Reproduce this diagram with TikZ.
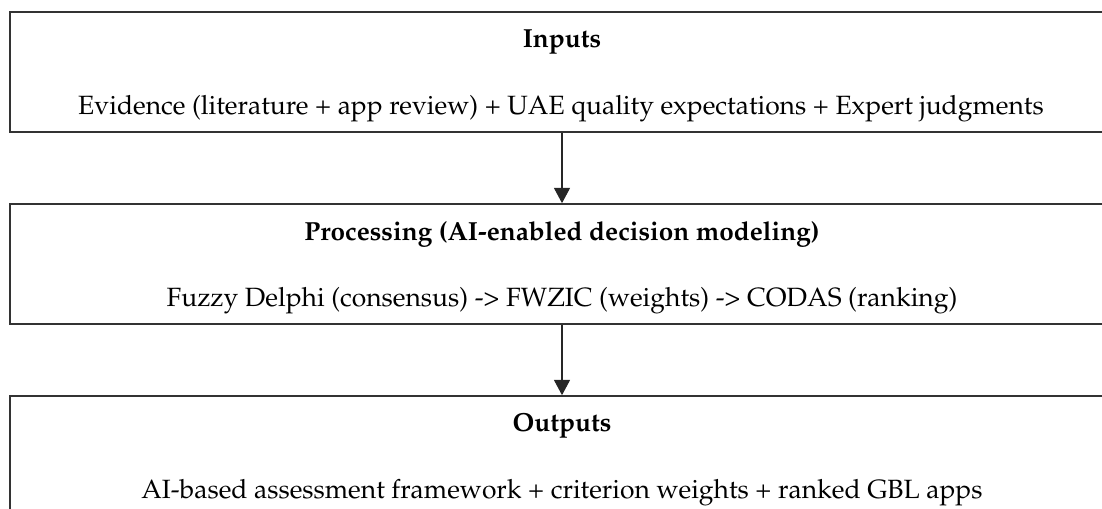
\documentclass[tikz,border=0pt]{standalone}
\usepackage[T1]{fontenc}
\usepackage{mathpazo}
\usetikzlibrary{arrows.meta}

\begin{document}
\begin{tikzpicture}[x=0.025cm, y=-0.025cm,
  stagebox/.style={draw=black!80, line width=1.2pt, minimum width=27.6cm, minimum height=3cm, inner sep=0pt},
  headtext/.style={font=\fontsize{18.6}{22}\selectfont\bfseries, inner sep=0pt},
  bodytext/.style={font=\fontsize{18.8}{22}\selectfont, inner sep=0pt},
  flow/.style={-{Triangle[length=3.8mm,width=4mm]}, line width=0.8pt, black!85}]

  \useasboundingbox (0,0) rectangle (1102,508);
  \clip (0,0) rectangle (1102,508);

  % Inputs box
  \node[stagebox] (inputs) at (562,72) {};
  \node[headtext] (inputstitle) at (562,42) {Inputs};
  \node[bodytext, anchor=base] (inputsline) at (561,114) {Evidence (literature + app review) + UAE quality expectations + Expert judgments};

  % Processing box
  \node[stagebox] (processing) at (562,264) {};
  \node[headtext] (processingtitle) at (562,234) {Processing (AI-enabled decision modeling)};
  \node[bodytext, anchor=base] (processingline) at (562,306) {Fuzzy Delphi (consensus) -> FWZIC (weights) -> CODAS (ranking)};

  % Outputs box
  \node[stagebox] (outputs) at (562,456) {};
  \node[headtext] (outputstitle) at (562,426) {Outputs};
  \node[bodytext, anchor=base] (outputsline) at (562,498) {AI-based assessment framework + criterion weights + ranked GBL apps};

  % Connections
  \draw[flow] (inputs.south) -- (processing.north);
  \draw[flow] (processing.south) -- (outputs.north);

\end{tikzpicture}
\end{document}
